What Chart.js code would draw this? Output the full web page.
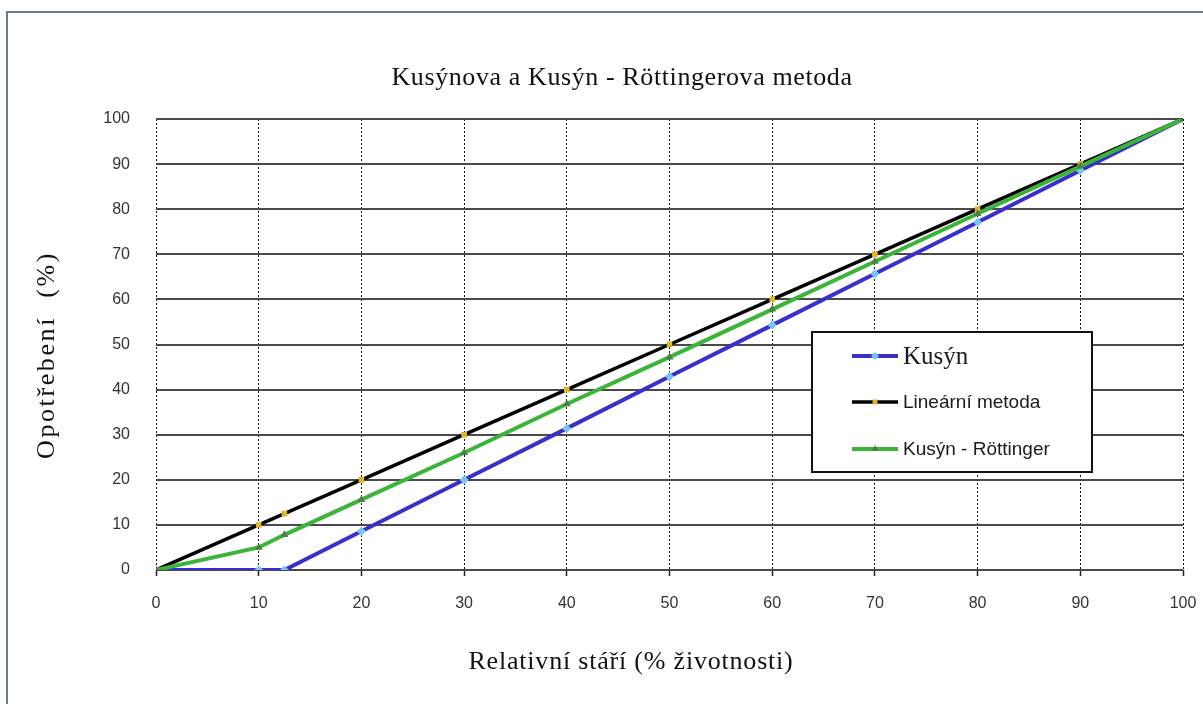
<!DOCTYPE html>
<html lang="cs">
<head>
<meta charset="utf-8">
<title>Kusýnova a Kusýn - Röttingerova metoda</title>
<script src="https://cdn.jsdelivr.net/npm/chart.js@4.4.1/dist/chart.umd.min.js"></script>
<style>
  html, body { margin: 0; padding: 0; background: #fff; overflow: hidden; }
  #ramecek { position: absolute; left: 6px; top: 11px; width: 1400px; height: 900px; border: 2px solid #62808e; }
  #obal { position: absolute; left: 0; top: 0; width: 1203px; height: 704px; }
</style>
</head>
<body>
<div id="ramecek"></div>
<div id="obal"><canvas id="grafico"></canvas></div>
<script>
// relativni stari (% zivotnosti)
const stari = [0, 10, 12.5, 20, 30, 40, 50, 60, 70, 80, 90, 100];
// opotrebeni (%)
const kusyn = [0, 0, 0, 8.6, 20, 31.4, 42.9, 54.3, 65.7, 77.1, 88.6, 100];
const linearni = [0, 10, 12.5, 20, 30, 40, 50, 60, 70, 80, 90, 100];
const kusynRottinger = [0, 5, 7.8, 15.6, 26, 36.8, 47.2, 57.8, 68.4, 79, 89.5, 100];

const osaTicks = [0, 10, 20, 30, 40, 50, 60, 70, 80, 90, 100];

const nazev = "Kusýnova a Kusýn - Röttingerova metoda";
const popisX = "Relativní stáří (% životnosti)";
const popisY = "Opotřebení  (%)";
const nazvyRad = ["Kusýn", "Lineární metoda", "Kusýn - Röttinger"];

function body(hodnoty) {
  return stari.map((x, i) => ({ x: x, y: hodnoty[i] }));
}

function pevneTicky(scale) {
  scale.ticks = osaTicks.map((v) => ({ value: v }));
}

// titulek grafu a popisky os
const popisky = {
  id: "popisky",
  afterDraw(chart) {
    const ctx = chart.ctx;
    const area = chart.chartArea;
    ctx.save();
    ctx.fillStyle = "#111";
    ctx.textAlign = "center";
    ctx.textBaseline = "middle";
    ctx.font = '26px "Liberation Serif"';
    ctx.letterSpacing = "0.6px";
    ctx.fillText(nazev, 622, area.top - 41);
    ctx.letterSpacing = "0.8px";
    ctx.fillText(popisX, 631, area.bottom + 92);
    ctx.translate(47, 355);
    ctx.rotate(-Math.PI / 2);
    ctx.letterSpacing = "2.6px";
    ctx.fillText(popisY, 0, 0);
    ctx.restore();
  },
};

// legenda v ramecku uvnitr grafu
const legenda = {
  id: "legenda",
  afterDatasetsDraw(chart) {
    const ctx = chart.ctx;
    const left = 812, top = 332, w = 280, h = 140;
    const radky = [356, 402, 449];
    ctx.save();
    ctx.fillStyle = "#fff";
    ctx.fillRect(left, top, w, h);
    ctx.strokeStyle = "#111";
    ctx.lineWidth = 2;
    ctx.strokeRect(left, top, w, h);
    chart.data.datasets.forEach((ds, i) => {
      const y = radky[i];
      ctx.strokeStyle = ds.borderColor;
      ctx.lineWidth = ds.borderWidth;
      ctx.beginPath();
      ctx.moveTo(852, y);
      ctx.lineTo(898, y);
      ctx.stroke();
      ctx.fillStyle = ds.pointBackgroundColor;
      Chart.helpers.drawPoint(ctx, { pointStyle: ds.pointStyle, radius: ds.pointRadius - 0.5, rotation: 0, borderWidth: 0 }, 875, y);
      ctx.fillStyle = "#1a1a1a";
      ctx.textAlign = "left";
      ctx.textBaseline = "middle";
      ctx.font = i === 0 ? '25px "Liberation Serif"' : '19px "Liberation Sans"';
      ctx.fillText(ds.label, 903, y + 1);
    });
    ctx.restore();
  },
};

new Chart(document.getElementById("grafico").getContext("2d"), {
  type: "line",
  data: {
    datasets: [
      {
        label: nazvyRad[0],
        data: body(kusyn),
        borderColor: "#3a2fcc",
        borderWidth: 4,
        pointStyle: "rectRot",
        pointRadius: 4.5,
        pointBackgroundColor: "#74c8f2",
        pointBorderWidth: 0,
        order: 2,
      },
      {
        label: nazvyRad[1],
        data: body(linearni),
        borderColor: "#000",
        borderWidth: 3.5,
        pointStyle: "rect",
        pointRadius: 4,
        pointBackgroundColor: "#e2b42a",
        pointBorderWidth: 0,
        order: 1,
      },
      {
        label: nazvyRad[2],
        data: body(kusynRottinger),
        borderColor: "#3cb43a",
        borderWidth: 4,
        pointStyle: "triangle",
        pointRadius: 4.5,
        pointBackgroundColor: "#4d7f43",
        pointBorderWidth: 0,
        order: 0,
      },
    ],
  },
  options: {
    responsive: true,
    maintainAspectRatio: false,
    animation: false,
    layout: { padding: { top: 119, right: 20, left: 0, bottom: 0 } },
    plugins: {
      legend: { display: false },
      title: { display: false },
      tooltip: { enabled: false },
    },
    scales: {
      x: {
        type: "linear",
        min: 0,
        max: 100,
        afterBuildTicks: pevneTicky,
        afterFit: (s) => { s.height = 134; },
        border: { display: false, dash: [2, 2] },
        grid: { color: "#111", lineWidth: 1, tickLength: 6, tickColor: "#222", tickWidth: 1.5, tickBorderDash: [] },
        ticks: { color: "#333", font: { family: "Liberation Sans", size: 16, lineHeight: 3 }, padding: 4, maxRotation: 0 },
      },
      y: {
        min: 0,
        max: 100,
        afterBuildTicks: pevneTicky,
        afterFit: (s) => { s.width = 156; },
        border: { display: false },
        grid: { color: "#4a4a4a", lineWidth: 2, drawTicks: false },
        ticks: { color: "#333", font: { family: "Liberation Sans", size: 16 }, padding: 26 },
      },
    },
  },
  plugins: [popisky, legenda],
});
</script>
</body>
</html>
